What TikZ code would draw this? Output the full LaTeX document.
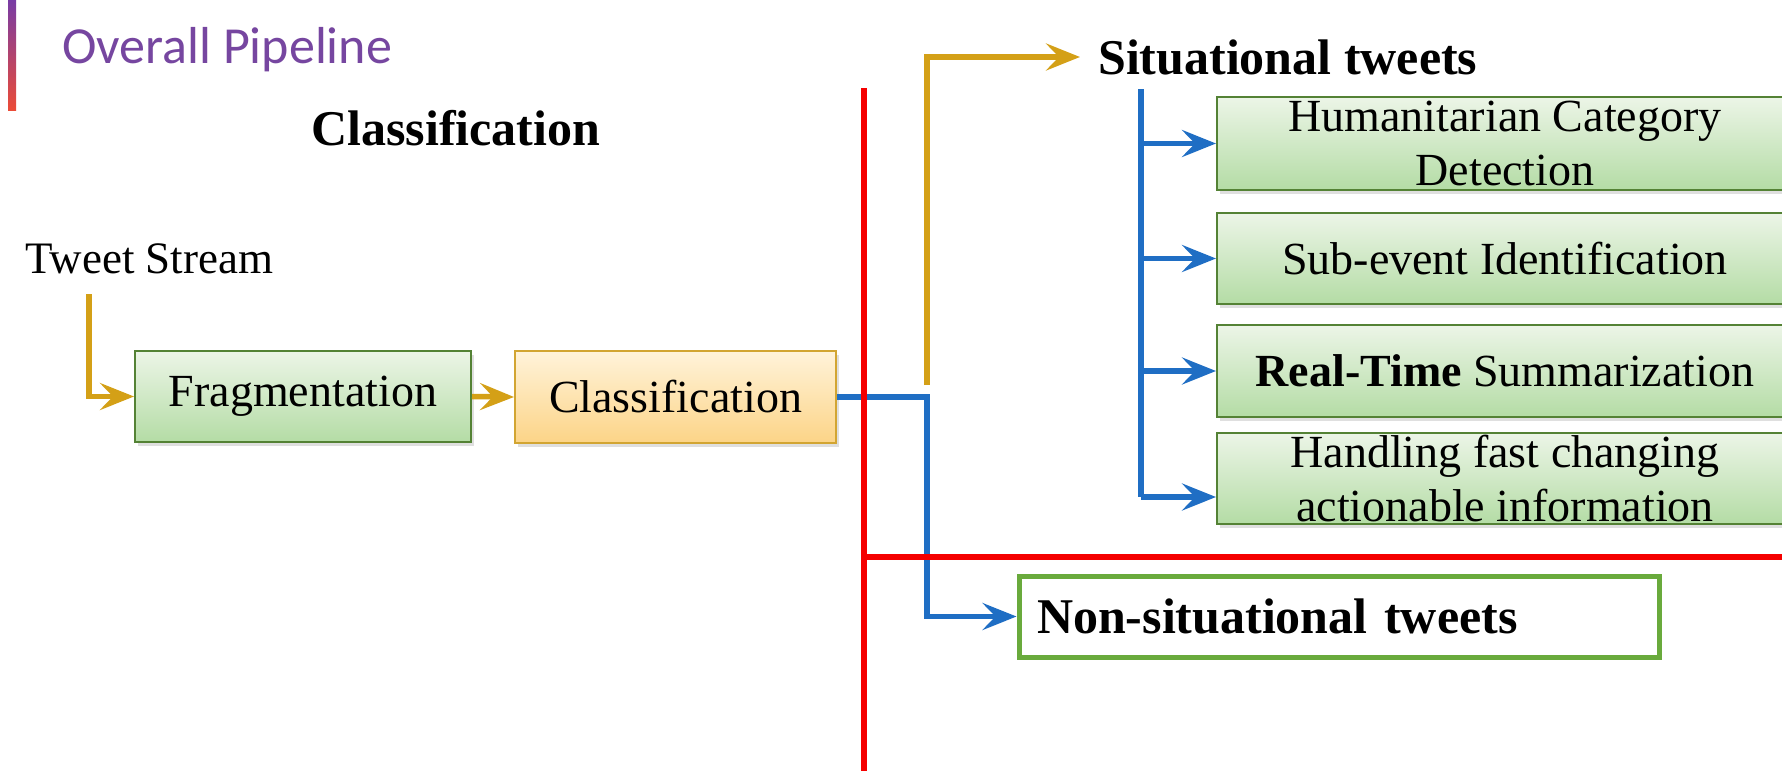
\documentclass[tikz,border=0pt]{standalone}
\usepackage{fontspec}
\setmainfont{Liberation Serif}
\newfontfamily\ttlfont{Carlito}
\usetikzlibrary{arrows.meta,shadows}
\definecolor{goldc}{RGB}{212,160,23}
\definecolor{bluec}{RGB}{31,110,196}
\definecolor{redc}{RGB}{245,0,0}
\definecolor{grnborder}{RGB}{84,130,53}
\definecolor{grntop}{RGB}{236,245,231}
\definecolor{grnbot}{RGB}{180,220,165}
\definecolor{orgborder}{RGB}{210,165,50}
\definecolor{orgtop}{RGB}{255,243,218}
\definecolor{orgbot}{RGB}{252,212,135}
\definecolor{nsborder}{RGB}{105,170,60}
\definecolor{ttlpurple}{RGB}{118,70,160}
\definecolor{barA}{RGB}{120,60,165}
\definecolor{barB}{RGB}{190,40,140}
\definecolor{barC}{RGB}{235,75,55}
\begin{document}
\begin{tikzpicture}[x=1pt,y=-1pt,
  txt/.style={font=\fontsize{46}{54}\selectfont},
  bigb/.style={font=\fontsize{50}{55}\selectfont\bfseries},
  shad/.style={drop shadow={shadow xshift=3pt,shadow yshift=-4pt,opacity=0.25}},
  greenbox/.style={draw=grnborder,line width=2pt,top color=grntop,bottom color=grnbot,
    inner sep=0pt,shad,txt,align=center},
  orangebox/.style={draw=orgborder,line width=2pt,top color=orgtop,bottom color=orgbot,
    inner sep=0pt,shad,txt,align=center},
  nsbox/.style={draw=nsborder,line width=5pt,fill=white,bigb,align=left,
    inner xsep=18pt,inner ysep=0pt,text width=604pt,minimum height=81pt},
  tipend/.style={-{Stealth[length=34pt,width=27pt,inset=13pt]}},
  goldln/.style={draw=goldc,line width=5.5pt},
  blueln/.style={draw=bluec,line width=5.5pt},
  redln/.style={draw=redc,line width=6pt}
]
\useasboundingbox (0,0) rectangle (1782,771);
\clip (0,0) rectangle (1782,771);
\fill[white] (0,0) rectangle (1782,771);

% accent bar and titles
\shade[top color=barA,middle color=barB,bottom color=barC] (8,0) rectangle (16,110);
\node[anchor=base west,inner sep=0pt,text=ttlpurple,font=\ttlfont\fontsize{52}{60}\selectfont] (title) at (62,63) {Overall Pipeline};
\node[anchor=base west,inner sep=0pt,bigb] (clstitle) at (311,145) {Classification};
\node[anchor=base west,inner sep=0pt,font=\fontsize{45}{54}\selectfont] (tweet) at (25,273) {Tweet Stream};

% left boxes
\node[greenbox,minimum width=336pt,minimum height=91pt] (frag) at (303,396.5) {Fragmentation};
\node[orangebox,minimum width=321pt,minimum height=92pt] (cls) at (675.5,397) {Classification};

% right boxes
\node[anchor=west,inner xsep=18pt,inner ysep=0pt,bigb] (sit) at (1080,57) {Situational tweets};
\node[greenbox,minimum width=576pt,minimum height=93pt] (b1) at (1505,143.5) {Humanitarian Category\\Detection};
\node[greenbox,minimum width=576pt,minimum height=91pt] (b2) at (1505,258.5) {Sub-event Identification};
\node[greenbox,minimum width=576pt,minimum height=92pt] (b3) at (1505,371) {{\bfseries Real-Time} Summarization};
\node[greenbox,minimum width=576pt,minimum height=91pt] (b4) at (1505,478.5) {Handling fast changing\\actionable information};
\node[nsbox] (ns) at (1339,616.5) {Non-situational tweets};

% connector coordinates
\coordinate (tsdown) at (89,294);
\coordinate (split) at (927,397);
\coordinate (goldup) at (927,385);
\coordinate (vtop) at (1141,89);
\coordinate (vbot) at (1141,497);

% gold connectors
\draw[goldln,tipend] (tsdown) |- (frag.west);
\draw[goldln,tipend] (frag.east) -- (cls.west);
\draw[goldln,tipend] (goldup) |- (sit.west);

% blue connectors
\draw[blueln,tipend] (cls.east) -- (split) |- (ns.west);
\draw[blueln] (vtop) -- (vbot);
\draw[blueln,tipend] (vtop |- b1.west) -- (b1.west);
\draw[blueln,tipend] (vtop |- b2.west) -- (b2.west);
\draw[blueln,tipend] (vtop |- b3.west) -- (b3.west);
\draw[blueln,tipend] (vbot) -- (vbot -| b4.west);

% red separators
\coordinate (rtop) at (864,88);
\coordinate (rbot) at (864,771);
\coordinate (rleft) at (864,557);
\coordinate (rright) at (1782,557);
\draw[redln] (rtop) -- (rbot);
\draw[redln] (rleft) -- (rright);
\end{tikzpicture}
\end{document}
